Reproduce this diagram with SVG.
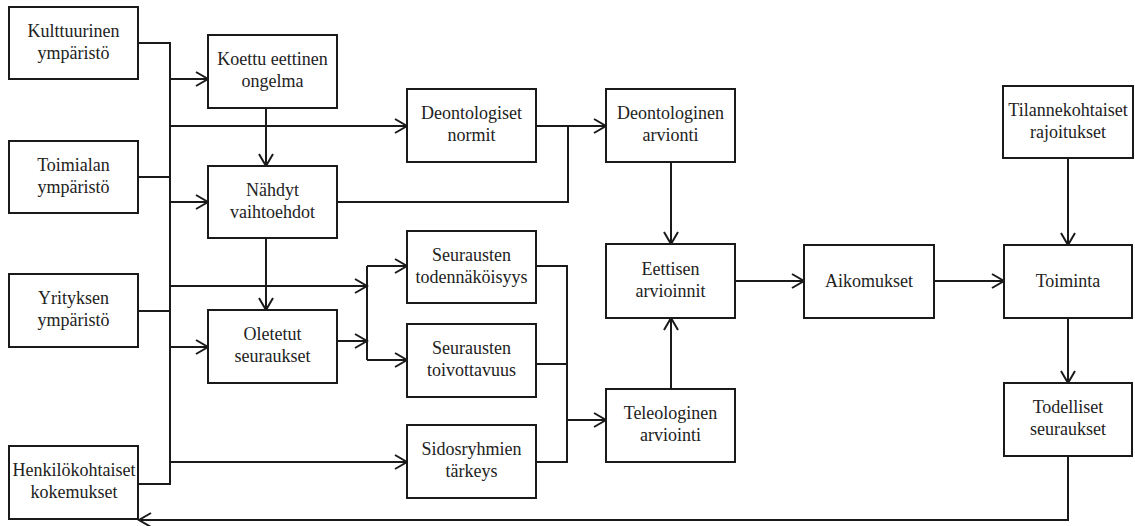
<svg xmlns="http://www.w3.org/2000/svg" width="1135" height="526" viewBox="0 0 1135 526">
  <style>
    .box rect { fill: #fff; stroke: #1a1a1a; stroke-width: 2; }
    .box text { font-size: 18px; fill: #222; text-anchor: middle; }
    .wire { fill: none; stroke: #1a1a1a; stroke-width: 2; }
    .arr { marker-end: url(#head); }
  </style>
  <defs>
    <marker id="head" markerUnits="userSpaceOnUse" markerWidth="16" markerHeight="18" viewBox="0 0 16 18" refX="14" refY="9" orient="auto">
      <path d="M2,2 L14,9 L2,16" fill="none" stroke="#1a1a1a" stroke-width="2"/>
    </marker>
  </defs>

  <rect width="1135" height="526" fill="#fff"/>

  <!-- connectors -->
  <g id="connectors">
    <!-- left bus collecting the environment boxes -->
    <path class="wire" d="M138,43 H170 V484 H138"/>
    <path class="wire" d="M138,177 H170"/>
    <path class="wire" d="M138,311 H170"/>
    <path class="wire arr" d="M170,79 H208"/>
    <path class="wire arr" d="M170,126 H407"/>
    <path class="wire arr" d="M170,202 H208"/>
    <path class="wire arr" d="M170,286 H367"/>
    <path class="wire arr" d="M170,347 H208"/>
    <path class="wire arr" d="M170,462 H407"/>

    <!-- problem -> alternatives -> consequences -->
    <path class="wire arr" d="M266,108 V166"/>
    <path class="wire arr" d="M266,238 V310"/>

    <!-- deontological branch -->
    <path class="wire arr" d="M536,126 H606"/>
    <path class="wire" d="M337,202 H568 V126"/>
    <path class="wire arr" d="M671,162 V244"/>

    <!-- consequences split -->
    <path class="wire arr" d="M337,341 H367"/>
    <path class="wire" d="M367,266 V360"/>
    <path class="wire arr" d="M367,266 H407"/>
    <path class="wire arr" d="M367,360 H407"/>

    <!-- teleological branch -->
    <path class="wire" d="M536,266 H567 V462 H536"/>
    <path class="wire" d="M536,364 H567"/>
    <path class="wire arr" d="M567,420 H606"/>
    <path class="wire arr" d="M671,389 V318"/>

    <!-- judgement -> intention -> action -->
    <path class="wire arr" d="M735,281 H804"/>
    <path class="wire arr" d="M934,281 H1004"/>
    <path class="wire arr" d="M1068,158 V245"/>
    <path class="wire arr" d="M1068,318 V383"/>

    <!-- feedback to personal experience -->
    <path class="wire arr" d="M1068,456 V520 H139"/>
  </g>

  <g font-family="Liberation Serif, DejaVu Serif, serif">
  <g id="kulttuurinen" class="box">
    <rect x="9" y="7" width="129" height="72"/>
    <text x="73.5" y="37">Kulttuurinen</text>
    <text x="73.5" y="59">ympäristö</text>
  </g>
  <g id="toimialan" class="box">
    <rect x="9" y="141" width="129" height="72"/>
    <text x="73.5" y="171">Toimialan</text>
    <text x="73.5" y="193">ympäristö</text>
  </g>
  <g id="yrityksen" class="box">
    <rect x="9" y="274" width="129" height="73"/>
    <text x="73.5" y="304">Yrityksen</text>
    <text x="73.5" y="326">ympäristö</text>
  </g>
  <g id="henkilokohtaiset" class="box">
    <rect x="9" y="446" width="129" height="73"/>
    <text x="74" y="476">Henkilökohtaiset</text>
    <text x="74" y="498">kokemukset</text>
  </g>

  <g id="koettu" class="box">
    <rect x="208" y="35" width="129" height="73"/>
    <text x="272.5" y="65">Koettu eettinen</text>
    <text x="272.5" y="87">ongelma</text>
  </g>
  <g id="nahdyt" class="box">
    <rect x="208" y="166" width="129" height="72"/>
    <text x="272.5" y="196">Nähdyt</text>
    <text x="272.5" y="218">vaihtoehdot</text>
  </g>
  <g id="oletetut" class="box">
    <rect x="208" y="310" width="129" height="73"/>
    <text x="272.5" y="340">Oletetut</text>
    <text x="272.5" y="362">seuraukset</text>
  </g>

  <g id="deontologiset" class="box">
    <rect x="407" y="89" width="129" height="73"/>
    <text x="471.5" y="119">Deontologiset</text>
    <text x="471.5" y="141">normit</text>
  </g>
  <g id="todennakoisyys" class="box">
    <rect x="407" y="231" width="129" height="72"/>
    <text x="471.5" y="261">Seurausten</text>
    <text x="471.5" y="283">todennäköisyys</text>
  </g>
  <g id="toivottavuus" class="box">
    <rect x="407" y="324" width="129" height="73"/>
    <text x="471.5" y="354">Seurausten</text>
    <text x="471.5" y="376">toivottavuus</text>
  </g>
  <g id="sidosryhmien" class="box">
    <rect x="407" y="425" width="129" height="73"/>
    <text x="471.5" y="455">Sidosryhmien</text>
    <text x="471.5" y="477">tärkeys</text>
  </g>

  <g id="deontologinen" class="box">
    <rect x="606" y="89" width="129" height="73"/>
    <text x="670.5" y="119">Deontologinen</text>
    <text x="670.5" y="141">arvionti</text>
  </g>
  <g id="eettisen" class="box">
    <rect x="606" y="244" width="129" height="74"/>
    <text x="670.5" y="275">Eettisen</text>
    <text x="670.5" y="297">arvioinnit</text>
  </g>
  <g id="teleologinen" class="box">
    <rect x="606" y="389" width="129" height="73"/>
    <text x="670.5" y="419">Teleologinen</text>
    <text x="670.5" y="441">arviointi</text>
  </g>

  <g id="aikomukset" class="box">
    <rect x="804" y="245" width="130" height="73"/>
    <text x="869" y="287">Aikomukset</text>
  </g>
  <g id="tilannekohtaiset" class="box">
    <rect x="1003" y="86" width="130" height="72"/>
    <text x="1068" y="116">Tilannekohtaiset</text>
    <text x="1068" y="138">rajoitukset</text>
  </g>
  <g id="toiminta" class="box">
    <rect x="1004" y="245" width="128" height="73"/>
    <text x="1068" y="287">Toiminta</text>
  </g>
  <g id="todelliset" class="box">
    <rect x="1004" y="383" width="128" height="73"/>
    <text x="1068" y="413">Todelliset</text>
    <text x="1068" y="435">seuraukset</text>
  </g>
  </g>
</svg>
